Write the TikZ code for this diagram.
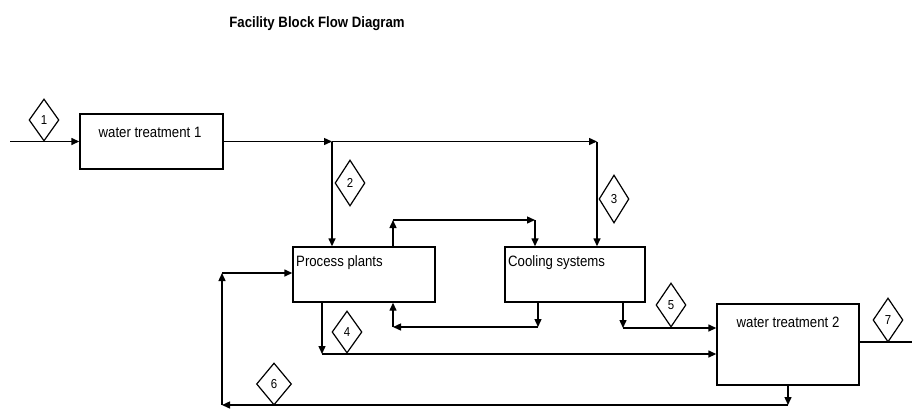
\documentclass[tikz,border=0pt]{standalone}
\usepackage{fontspec}
\setmainfont{Liberation Sans}[FakeStretch=0.88]
\usetikzlibrary{arrows.meta,shapes.geometric}
\begin{document}
\begin{tikzpicture}[x=1pt,y=-1pt,
  blk/.style={draw, line width=1.4pt, inner sep=0pt},
  lbl/.style={font=\fontsize{15}{15}\selectfont, inner sep=0pt},
  dia/.style={draw, diamond, fill=white, line width=1.2pt, inner sep=0pt, minimum width=30pt, minimum height=42pt, font=\fontsize{13}{13}\selectfont},
  flow/.style={line width=1.4pt},
  arr/.style={flow, -{Triangle[length=8pt,width=7pt]}}]
\useasboundingbox (0,0) rectangle (912,408);

% title
\node[font=\fontsize{15}{15}\selectfont\bfseries, inner sep=0pt] (title) at (317,24) {Facility Block Flow Diagram};

% blocks
\node[blk, minimum width=143pt, minimum height=55pt] (wt1) at (151.5,141.5) {};
\node[lbl] (wt1t) at (150,132) {water treatment 1};
\node[blk, minimum width=142pt, minimum height=55pt] (pp) at (364,274.5) {};
\node[lbl, anchor=west] (ppt) at (296,263) {Process plants};
\node[blk, minimum width=140pt, minimum height=55pt] (cs) at (575,274.5) {};
\node[lbl, anchor=west] (cst) at (508,263) {Cooling systems};
\node[blk, minimum width=142pt, minimum height=81pt] (wt2) at (788,344.5) {};
\node[lbl] (wt2t) at (788,322) {water treatment 2};

% helper points
\coordinate (src) at (10,141.5);
\coordinate (j2) at (332,141.5);
\coordinate (j3) at (597,141.5);
\coordinate (a1) at (393,220);
\coordinate (a2) at (535,220);
\coordinate (b1) at (322,354);
\coordinate (c1) at (538,327);
\coordinate (c2) at (393,327);
\coordinate (d1) at (623,328);
\coordinate (e1) at (912,342);
\coordinate (f1) at (788,405);
\coordinate (f2) at (222,405);
\coordinate (f3) at (222,273);

% connectors
\draw[arr] (src) -- (wt1.west);
\draw[arr] (wt1.east) -- (j2);
\draw[arr] (j2) -- (j3);
\draw[arr] (j2) -- (j2 |- pp.north);
\draw[arr] (j3) -- (j3 |- cs.north);

\draw[arr] (a1 |- pp.north) -- (a1);
\draw[arr] (a1) -- (a2);
\draw[arr] (a2) -- (a2 |- cs.north);

\draw[arr] (b1 |- pp.south) -- (b1);
\draw[arr] (b1) -- (b1 -| wt2.west);

\draw[arr] (c1 |- cs.south) -- (c1);
\draw[arr] (c1) -- (c2);
\draw[arr] (c2) -- (c2 |- pp.south);

\draw[arr] (d1 |- cs.south) -- (d1);
\draw[arr] (d1) -- (d1 -| wt2.west);

\draw[flow] (wt2.east |- e1) -- (e1);

\draw[arr] (wt2.south) -- (f1);
\draw[arr] (f1) -- (f2);
\draw[arr] (f2) -- (f3);
\draw[arr] (f3) -- (f3 -| pp.west);

% stream numbers
\node[dia] (n1) at (44,120) {1};
\node[dia, minimum height=46pt] (n2) at (350,183) {2};
\node[dia, minimum height=48pt] (n3) at (614,199) {3};
\node[dia] (n4) at (347,332) {4};
\node[dia, minimum height=44pt] (n5) at (671,305) {5};
\node[dia, minimum width=35pt] (n6) at (274,384) {6};
\node[dia, minimum height=44pt] (n7) at (888,320) {7};
\end{tikzpicture}
\end{document}
